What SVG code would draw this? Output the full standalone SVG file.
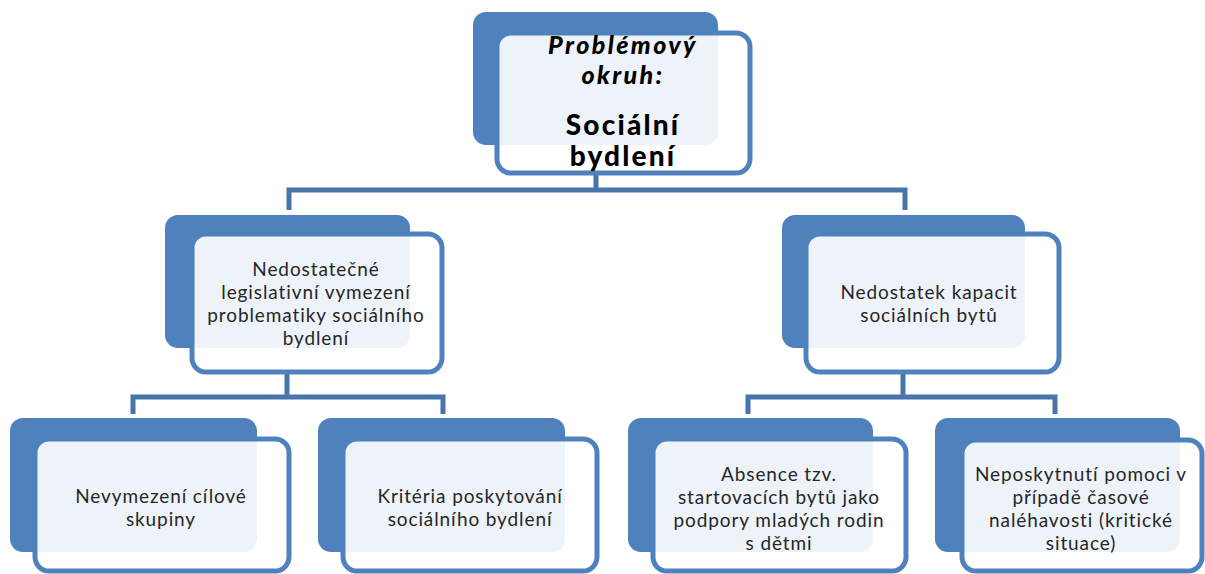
<svg xmlns="http://www.w3.org/2000/svg" width="1205" height="574" viewBox="0 0 1205 574">
<style>
.back{fill:#4f81bd;}
.front{fill:#ffffff;fill-opacity:0.9;stroke:#4f81bd;stroke-width:5;}
.conn{fill:none;stroke:#4674ab;stroke-width:5;}
.t{font-family:Lato,"Open Sans",sans-serif;font-size:19px;letter-spacing:0.9px;fill:#262626;text-anchor:middle;}
.h1{font-family:Lato,"Open Sans",sans-serif;font-size:25px;font-weight:900;font-style:italic;fill:#000;text-anchor:middle;letter-spacing:2.4px;}
.h2{font-family:Lato,"Open Sans",sans-serif;font-size:28px;font-weight:900;fill:#000;text-anchor:middle;letter-spacing:2.2px;}
</style>
<rect width="1205" height="574" fill="#ffffff"/>
<g id="connectors">
<path class="conn" d="M596 175 V190 M289 210 V190 H905 V210"/>
<path class="conn" d="M287 373 V397 M133 414 V397 H443 V414"/>
<path class="conn" d="M903 373 V397 M748 414 V397 H1055 V414"/>
</g>
<g id="n0">
<rect class="back" x="473" y="12" width="245" height="133" rx="13"/>
<rect class="front" x="497" y="33" width="253" height="140" rx="14"/>
<text class="h1" x="623" y="54">Problémový</text>
<text class="h1" x="623" y="84">okruh:</text>
<text class="h2" x="623" y="135">Sociální</text>
<text class="h2" x="623" y="166">bydlení</text>
</g>
<g id="n1">
<rect class="back" x="165" y="215" width="245" height="133" rx="13"/>
<rect class="front" x="192" y="234" width="250" height="138" rx="14"/>
<text class="t" x="316" y="276">Nedostatečné</text>
<text class="t" x="316" y="299">legislativní vymezení</text>
<text class="t" x="316" y="322">problematiky sociálního</text>
<text class="t" x="316" y="345">bydlení</text>
</g>
<g id="n2">
<rect class="back" x="782" y="215" width="243" height="133" rx="13"/>
<rect class="front" x="806" y="234" width="253" height="138" rx="14"/>
<text class="t" x="929" y="299">Nedostatek kapacit</text>
<text class="t" x="929" y="322">sociálních bytů</text>
</g>
<g id="n3">
<rect class="back" x="10" y="418" width="247" height="134" rx="13"/>
<rect class="front" x="35" y="439" width="254" height="132" rx="14"/>
<text class="t" x="161" y="503">Nevymezení cílové</text>
<text class="t" x="161" y="526">skupiny</text>
</g>
<g id="n4">
<rect class="back" x="318" y="418" width="247" height="134" rx="13"/>
<rect class="front" x="343" y="439" width="254" height="132" rx="14"/>
<text class="t" x="470" y="503">Kritéria poskytování</text>
<text class="t" x="470" y="526">sociálního bydlení</text>
</g>
<g id="n5">
<rect class="back" x="628" y="418" width="245" height="134" rx="13"/>
<rect class="front" x="653" y="439" width="253" height="132" rx="14"/>
<text class="t" x="779" y="481">Absence tzv.</text>
<text class="t" x="779" y="504">startovacích bytů jako</text>
<text class="t" x="779" y="527">podpory mladých rodin</text>
<text class="t" x="779" y="550">s dětmi</text>
</g>
<g id="n6">
<rect class="back" x="935" y="418" width="245" height="134" rx="13"/>
<rect class="front" x="962" y="440" width="240" height="131" rx="14"/>
<text class="t" x="1081" y="481">Neposkytnutí pomoci v</text>
<text class="t" x="1081" y="504">případě časové</text>
<text class="t" x="1081" y="527">naléhavosti (kritické</text>
<text class="t" x="1081" y="550">situace)</text>
</g>
</svg>
